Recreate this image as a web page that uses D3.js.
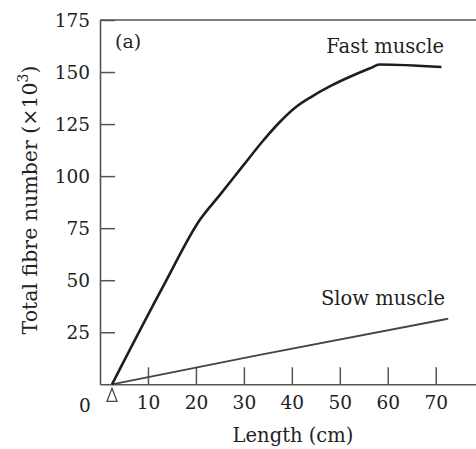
<!DOCTYPE html>
<html><head><meta charset="utf-8">
<script src="https://cdn.jsdelivr.net/npm/d3@7"></script>
<style>
html,body{margin:0;padding:0;background:#fff;}
svg text{font-family:"DejaVu Serif",serif;fill:#222;}
</style></head>
<body>
<svg id="c" width="476" height="449"></svg>
<script>
const fastX = [2.5, 13.5, 20.8, 25, 30, 34, 37.5, 41, 44, 48, 52, 56.3, 58.3, 71.2];
const fastY = [0, 48.5, 78.9, 91, 105.5, 117, 126, 133.4, 138, 143.2, 147.6, 151.8, 153.6, 152.4];
const slowX = [2.5, 33.3, 72.6];
const slowY = [0, 14.1, 31.5];
const xTicks = [10, 20, 30, 40, 50, 60, 70];
const yTicks = [25, 50, 75, 100, 125, 150, 175];
const startLength = 2.5;

const svg = d3.select("#c");
const x = d3.scaleLinear().domain([0, 78.4]).range([100, 476]);
const y = d3.scaleLinear().domain([0, 175]).range([384.3, 20]);

svg.append("line").attr("x1", x(0)).attr("x2", x(78.4)).attr("y1", y(175)).attr("y2", y(175))
  .attr("stroke", "#555").attr("stroke-width", 1.6);

const xAxis = svg.append("g").attr("transform", `translate(0,${y(0)})`)
  .call(d3.axisBottom(x).tickValues(xTicks).tickSizeInner(-17).tickSizeOuter(0).tickPadding(12));
const yAxis = svg.append("g").attr("transform", `translate(${x(0)},0)`)
  .call(d3.axisLeft(y).tickValues(yTicks).tickSizeInner(-15).tickSizeOuter(0).tickPadding(10));

[xAxis, yAxis].forEach(g => {
  g.select(".domain").attr("stroke", "#555").attr("stroke-width", 1.6);
  g.selectAll(".tick line").attr("stroke", "#555").attr("stroke-width", 1.5);
  g.selectAll(".tick text").attr("font-size", 18.5).attr("font-family", "DejaVu Serif, serif").attr("fill", "#222");
});
yAxis.selectAll(".tick text").attr("dy", "0.36em");
xAxis.selectAll(".tick text").attr("dy", "0.71em");

svg.append("text").attr("x", x(0) - 15).attr("y", 412).attr("text-anchor", "middle")
  .attr("font-size", 18.5).text("0");

const tx = x(startLength);
svg.append("path")
  .attr("d", `M${tx},${y(0) + 4}L${tx + 5},${y(0) + 17}L${tx - 5},${y(0) + 17}Z`)
  .attr("fill", "#fff").attr("stroke", "#444").attr("stroke-width", 1.3);

const line = d3.line().x(d => x(d[0])).y(d => y(d[1])).curve(d3.curveMonotoneX);
svg.append("path").datum(slowX.map((v, i) => [v, slowY[i]]))
  .attr("d", line).attr("fill", "none").attr("stroke", "#444").attr("stroke-width", 1.8);
svg.append("path").datum(fastX.map((v, i) => [v, fastY[i]]))
  .attr("d", line).attr("fill", "none").attr("stroke", "#1e1e1e").attr("stroke-width", 2.6);

svg.append("text").attr("x", 115).attr("y", 48).attr("font-size", 19).text("(a)");
svg.append("text").attr("x", 444).attr("y", 53).attr("text-anchor", "end").attr("font-size", 19.5).text("Fast muscle");
svg.append("text").attr("x", 445).attr("y", 305).attr("text-anchor", "end").attr("font-size", 19.5).text("Slow muscle");

svg.append("text").attr("x", 293).attr("y", 442).attr("text-anchor", "middle").attr("font-size", 19.5).text("Length (cm)");

const yt = svg.append("text").attr("transform", "translate(37,200) rotate(-90)")
  .attr("text-anchor", "middle").attr("font-size", 20.5);
yt.append("tspan").text("Total fibre number (×10");
yt.append("tspan").attr("dy", -9).attr("font-size", 14).text("3");
yt.append("tspan").attr("dy", 9).text(")");
</script>
</body></html>
